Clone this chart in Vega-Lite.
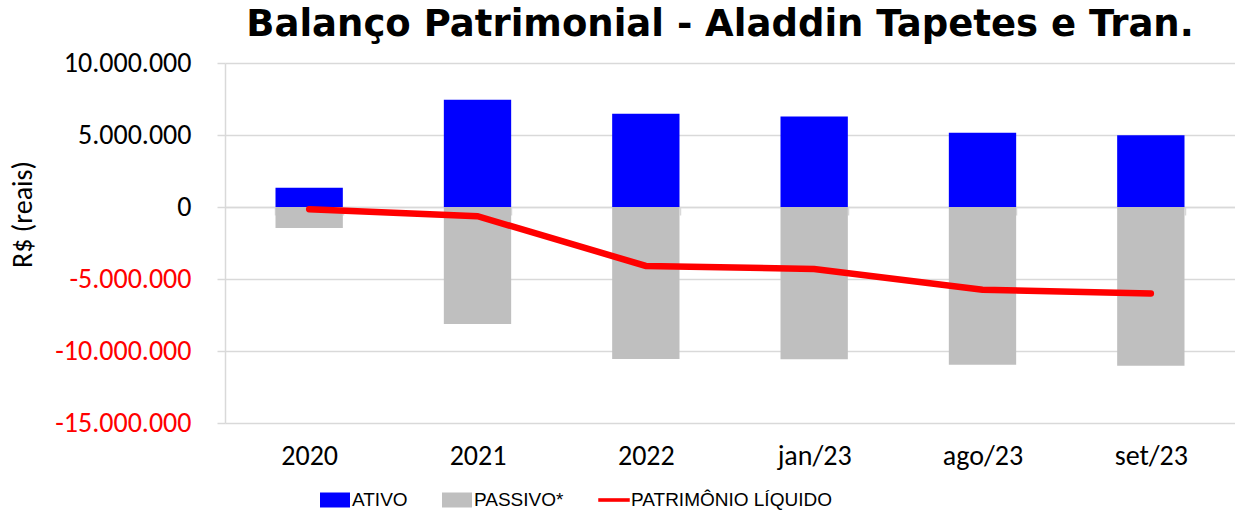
{
  "$schema": "https://vega.github.io/schema/vega-lite/v6.json",
  "width": 1010,
  "height": 360,
  "autosize": {"type": "none"},
  "padding": {"left": 225, "top": 63, "right": 0, "bottom": 93},
  "config": {
    "view": {"stroke": null}
  },
  "title": {
    "text": "Balanço Patrimonial - Aladdin Tapetes e Tran.",
    "font": "DejaVu Sans",
    "fontSize": 37,
    "fontWeight": "bold",
    "color": "black",
    "anchor": "middle",
    "frame": "group",
    "dx": -10,
    "dy": 37,
    "baseline": "alphabetic",
    "offset": 13
  },
  "data": {
    "values": [
      {"periodo": "2020", "ativo": 1340000, "passivo": -1460000, "pl": -150000},
      {"periodo": "2021", "ativo": 7440000, "passivo": -8120000, "pl": -640000},
      {"periodo": "2022", "ativo": 6470000, "passivo": -10550000, "pl": -4090000},
      {"periodo": "jan/23", "ativo": 6280000, "passivo": -10580000, "pl": -4310000},
      {"periodo": "ago/23", "ativo": 5150000, "passivo": -10960000, "pl": -5750000},
      {"periodo": "set/23", "ativo": 4990000, "passivo": -11030000, "pl": -6000000}
    ]
  },
  "encoding": {
    "x": {
      "field": "periodo",
      "type": "nominal",
      "sort": null,
      "scale": {"paddingInner": 0.6, "paddingOuter": 0.3},
      "axis": {
        "title": null,
        "orient": "bottom",
        "offset": -216,
        "tickBand": "extent",
        "tickSize": 8,
        "tickColor": "#d9d9d9",
        "tickWidth": 1.5,
        "domainColor": "#d9d9d9",
        "domainWidth": 1.5,
        "labelPadding": 227,
        "labelFont": "Carlito, Lato",
        "labelFontSize": 28,
        "labelColor": "black",
        "labelAngle": 0,
        "grid": false
      }
    }
  },
  "layer": [
    {
      "mark": {"type": "bar"},
      "encoding": {
        "y": {
          "field": "ativo",
          "type": "quantitative",
          "title": "R$ (reais)",
          "scale": {"domain": [-15000000, 10000000], "nice": false},
          "axis": {
            "values": [-15000000, -10000000, -5000000, 0, 5000000, 10000000],
            "labelExpr": "replace(replace(replace(format(datum.value, ','), ',', '.'), ',', '.'), '\u2212', '-')",
            "grid": true,
            "gridColor": "#d9d9d9",
            "gridWidth": 1.5,
            "domainColor": "#d9d9d9",
            "domainWidth": 1.5,
            "tickColor": "#d9d9d9",
            "tickWidth": 1.5,
            "tickSize": 8,
            "labelPadding": 26,
            "labelFont": "Carlito, Lato",
            "labelFontSize": 28,
            "labelColor": {"condition": {"test": "datum.value < 0", "value": "#ff0000"}, "value": "black"},
            "titleFont": "Carlito, Lato",
            "titleFontSize": 28,
            "titleFontWeight": "normal",
            "titleColor": "black",
            "titleX": -188,
            "titleY": 151,
            "titleAngle": 270,
            "titleBaseline": "bottom"
          }
        },
        "color": {
          "datum": "ATIVO",
          "scale": {"domain": ["ATIVO", "PASSIVO*", "PATRIMÔNIO LÍQUIDO"], "range": ["#0000ff", "#bfbfbf", "#ff0000"]},
          "legend": {
            "title": null,
            "orient": "none",
            "legendX": 95,
            "legendY": 422,
            "direction": "horizontal",
            "columns": 3,
            "padding": 0,
            "symbolSize": 900,
            "symbolStrokeWidth": 0,
            "labelFont": "Liberation Sans",
            "labelFontSize": 19,
            "labelLimit": 0,
            "labelColor": "black",
            "labelOffset": 2,
            "columnPadding": 34,
            "encode": {
              "symbols": {
                "update": {
                  "shape": {"signal": "indexof(datum.value, 'PATRIM') === 0 ? 'M-1.05,-0.12H1.05V0.12H-1.05Z' : 'M-1,-0.5H1V0.5H-1Z'"},
                  "fill": {"scale": "color", "field": "value"},
                  "stroke": {"value": "transparent"},
                  "opacity": {"value": 1}
                }
              }
            }
          }
        }
      }
    },
    {
      "mark": {"type": "bar"},
      "encoding": {
        "y": {"field": "passivo", "type": "quantitative", "title": "R$ (reais)"},
        "color": {"datum": "PASSIVO*"}
      }
    },
    {
      "mark": {"type": "line", "strokeWidth": 6.5, "strokeCap": "round"},
      "encoding": {
        "y": {"field": "pl", "type": "quantitative", "title": "R$ (reais)"},
        "color": {"datum": "PATRIMÔNIO LÍQUIDO"}
      }
    }
  ]
}
